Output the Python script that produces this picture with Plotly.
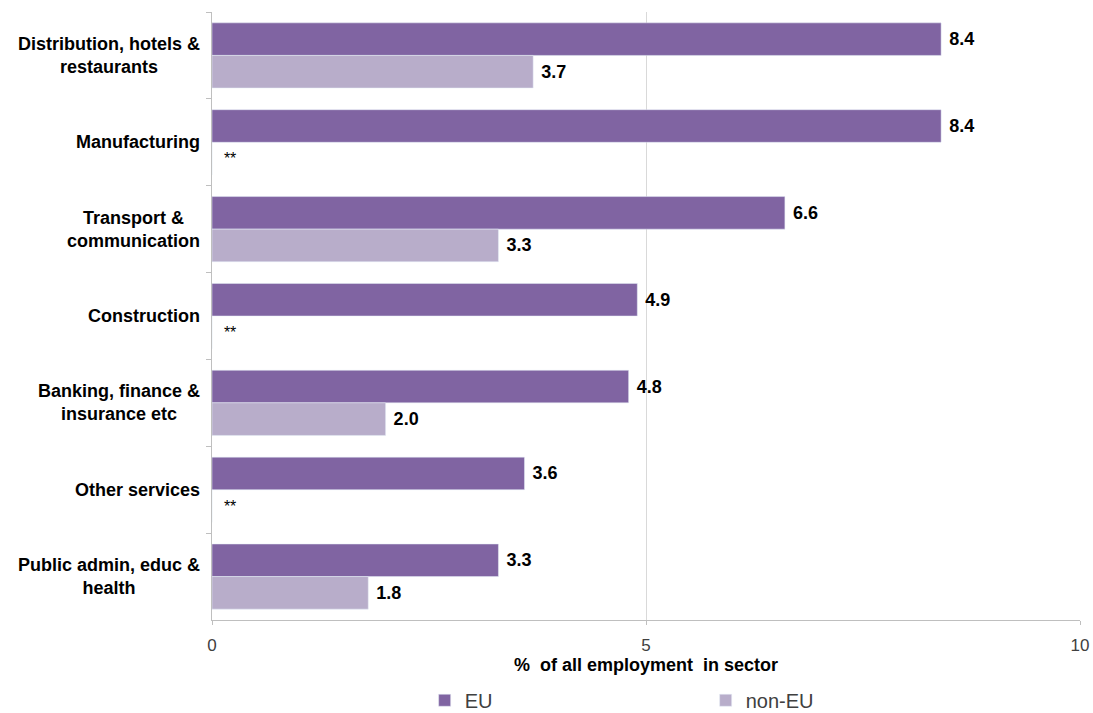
import plotly.graph_objects as go

categories = [
    "Distribution, hotels &<br>restaurants",
    "Manufacturing",
    "Transport &<br>communication",
    "Construction",
    "Banking, finance &<br>insurance etc",
    "Other services",
    "Public admin, educ &<br>health",
]
eu_values = [8.4, 8.4, 6.6, 4.9, 4.8, 3.6, 3.3]
non_eu_values = [3.7, None, 3.3, None, 2.0, None, 1.8]
x_ticks = [0, 5, 10]

EU_COLOR = "#8064A2"
NONEU_COLOR = "#B8ADCA"
FONT = "Liberation Sans, Arial, sans-serif"

non_eu_plot = [v if v is not None else 0 for v in non_eu_values]
non_eu_text = ["\u00a0<b>%.1f</b>" % v if v is not None else "\u00a0\u00a0**" for v in non_eu_values]
non_eu_size = [18 if v is not None else 16 for v in non_eu_values]

fig = go.Figure()
fig.add_trace(go.Bar(
    y=categories, x=eu_values, orientation="h", name="EU",
    marker=dict(color=EU_COLOR),
    text=["\u00a0<b>%.1f</b>" % v for v in eu_values],
    textposition="outside", cliponaxis=False,
    textfont=dict(size=18, color="#000000", family=FONT),
))
fig.add_trace(go.Bar(
    y=categories, x=non_eu_plot, orientation="h", name="non-EU",
    marker=dict(color=NONEU_COLOR),
    text=non_eu_text,
    textposition="outside", cliponaxis=False,
    textfont=dict(size=non_eu_size, color="#000000", family=FONT),
))

for c in categories:
    fig.add_annotation(
        x=0, xref="paper", y=c, yref="y", text="<b>%s</b>" % c,
        xanchor="right", yanchor="middle", align="center", xshift=-10,
        showarrow=False, font=dict(size=18, color="#000000", family=FONT),
    )

fig.update_layout(
    width=1093, height=713,
    margin=dict(l=212, r=13, t=12, b=93, autoexpand=False),
    barmode="group", bargap=0.25, bargroupgap=0,
    plot_bgcolor="#FFFFFF", paper_bgcolor="#FFFFFF",
    font=dict(family=FONT, color="#404040"),
    showlegend=True,
    legend=dict(
        orientation="h", x=0.245, xanchor="left", y=-0.132, yanchor="middle",
        font=dict(size=20, color="#404040", family=FONT),
        entrywidth=236, entrywidthmode="pixels",
        traceorder="normal",
    ),
    xaxis=dict(
        range=[0, 10], tickvals=x_ticks, ticktext=[str(t) for t in x_ticks],
        showgrid=True, gridcolor="#D9D9D9", gridwidth=1, automargin=False,
        zeroline=False, showline=True, linecolor="#BFBFBF", linewidth=1,
        ticks="outside", ticklen=4, tickcolor="#BFBFBF", ticklabelstandoff=6,
        tickfont=dict(size=17, color="#404040", family=FONT),
        title=dict(text="<b>%  of all employment  in sector</b>",
                   font=dict(size=18, color="#000000", family=FONT), standoff=3),
    ),
    yaxis=dict(
        autorange="reversed", showticklabels=False, automargin=False,
        showline=True, linecolor="#BFBFBF", linewidth=1,
        ticks="outside", ticklen=5, tickcolor="#BFBFBF", tickson="boundaries",
        showgrid=False, zeroline=False,
    ),
)

fig.write_html("out.html", config={"displayModeBar": False},
               post_script="document.body.style.margin='0';")
